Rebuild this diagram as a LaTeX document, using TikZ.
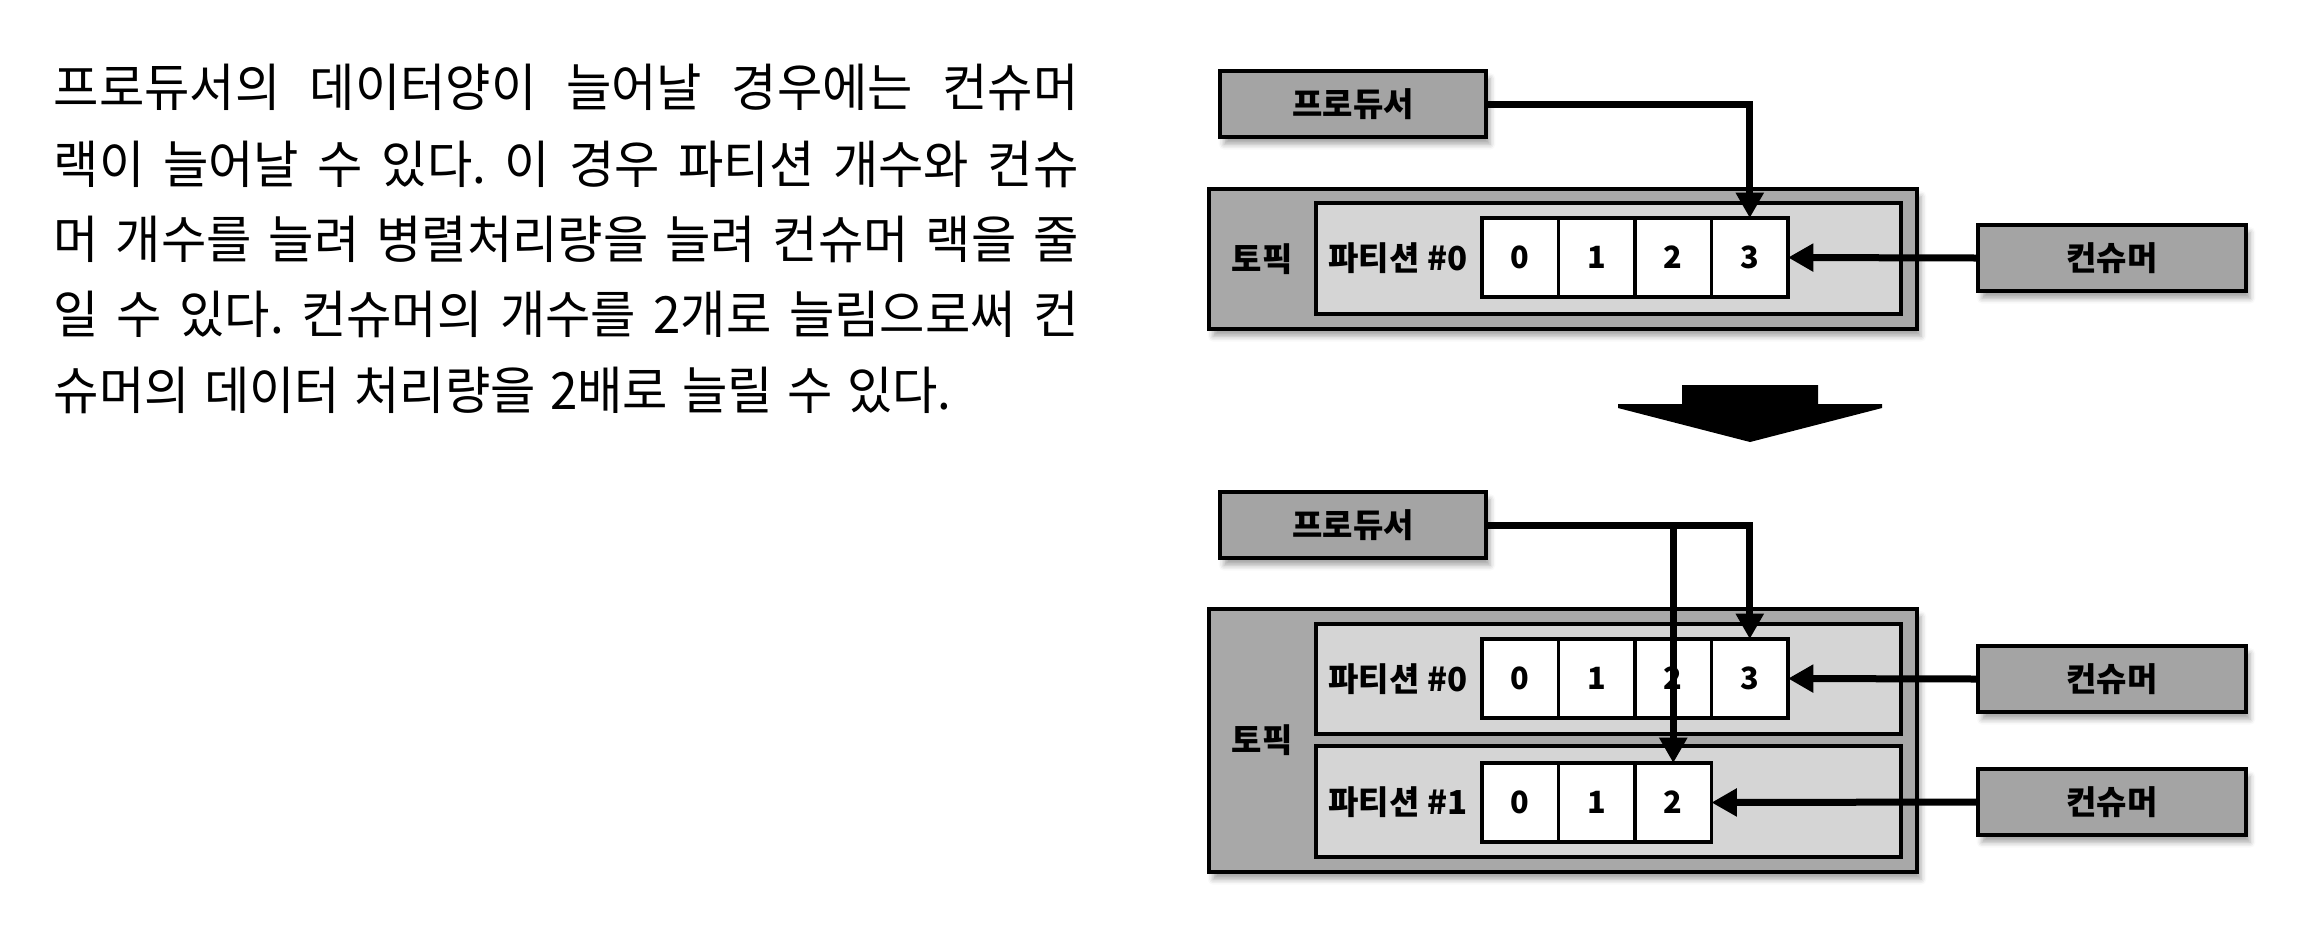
\documentclass[tikz,border=0pt]{standalone}
\usepackage{fontspec}
\newfontfamily\kr{Noto Sans CJK KR}
\newfontfamily\krp[FakeStretch=0.96,WordSpace=1.3]{Noto Sans CJK KR}
\usetikzlibrary{arrows.meta,shadows.blur}
\definecolor{actorgray}{HTML}{A4A4A4}
\definecolor{topicgray}{HTML}{A8A8A8}
\definecolor{partgray}{HTML}{D5D5D5}
\frenchspacing
\tikzset{
  sh/.style={blur shadow={shadow xshift=1.2pt, shadow yshift=-2.2pt, shadow blur radius=1.6pt, shadow opacity=35}},
  box/.style={draw=black, line width=1.05pt, inner sep=0pt, outer sep=0pt},
  actor/.style={box, sh, fill=actorgray, minimum width=79.8pt, minimum height=19.8pt,
    font=\kr\bfseries\fontsize{9.9pt}{11pt}\selectfont},
  topicbox/.style={box, sh, fill=topicgray, minimum width=212.4pt},
  partbox/.style={box, fill=partgray, minimum width=175.5pt},
  cell/.style={box, fill=white, minimum width=22.95pt, minimum height=23.7pt,
    font=\kr\bfseries\fontsize{9.2pt}{11pt}\selectfont},
  lbl/.style={inner sep=0pt, font=\kr\bfseries\fontsize{9.9pt}{11pt}\selectfont},
  para/.style={inner sep=0pt, anchor=base west, font=\krp\fontsize{15.4pt}{18pt}\selectfont},
  conn/.style={line width=2.1pt, -{Triangle[length=7.6pt,width=8pt]}},
}
\begin{document}
\begin{tikzpicture}[x=0.3pt, y=-0.3pt]
\useasboundingbox (0,0) rectangle (2314,932);

% paragraph
\node[para] (t1) at (53,106) {\makebox[307.5pt][s]{프로듀서의 데이터양이 늘어날 경우에는 컨슈머}};
\node[para] (t2) at (53,183) {\makebox[307.5pt][s]{랙이 늘어날 수 있다. 이 경우 파티션 개수와 컨슈}};
\node[para] (t3) at (53,258) {\makebox[307.5pt][s]{머 개수를 늘려 병렬처리량을 늘려 컨슈머 랙을 줄}};
\node[para] (t4) at (53,333) {\makebox[307.5pt][s]{일 수 있다. 컨슈머의 개수를 2개로 늘림으로써 컨}};
\node[para] (t5) at (53,409) {슈머의 데이터 처리량을 2배로 늘릴 수 있다.};

% ---------- top diagram ----------
\node[topicbox, minimum height=42pt] (T1) at (1563,259) {};
\node[partbox, minimum height=33.3pt] (P1) at (1608.5,258.5) {};
\node[lbl] (L1) at (1262,259) {토픽};
\node[lbl] (N1) at (1398,258) {파티션 \#0};
\foreach \i in {0,...,3} \node[cell] (a\i) at ({1520.25+76.5*\i},257.5) {\i};
\node[actor] (p1) at (1353,104) {프로듀서};
\node[actor, minimum width=80.4pt] (k1) at (2112,258) {컨슈머};
\draw[conn] (p1.east) -| (a3.north);
\draw[conn] (k1.west) -- (a3.east);

% big arrow
\fill[black] (1682,385) -- (1818,385) -- (1818,404) -- (1882,404) -- (1882,408)
  -- (1750,442) -- (1618,408) -- (1618,404) -- (1682,404) -- cycle;

% ---------- bottom diagram ----------
\node[topicbox, minimum height=78.9pt] (T2) at (1563,740.5) {};
\node[partbox, minimum height=33pt] (P2) at (1608.5,679) {};
\node[partbox, minimum height=33.3pt] (P3) at (1608.5,801.5) {};
\node[lbl] (L2) at (1262,740) {토픽};
\node[lbl] (N2) at (1398,679) {파티션 \#0};
\node[lbl] (N3) at (1398,802) {파티션 \#1};
\foreach \i in {0,...,3} \node[cell] (b\i) at ({1520.25+76.5*\i},678.5) {\i};
\foreach \i in {0,...,2} \node[cell] (c\i) at ({1520.25+76.5*\i},802.5) {\i};
\node[actor] (p2) at (1353,525) {프로듀서};
\node[actor, minimum width=80.4pt] (k2) at (2112,679) {컨슈머};
\node[actor, minimum width=80.4pt] (k3) at (2112,802) {컨슈머};
\draw[conn] (p2.east) -| (b3.north);
\draw[conn] (p2.east -| c2.north) -- (c2.north);
\draw[conn] (k2.west) -- (b3.east);
\draw[conn] (k3.west) -- (c2.east);
\end{tikzpicture}
\end{document}
